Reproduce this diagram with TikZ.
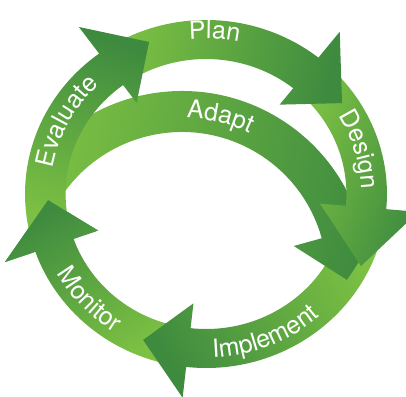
\documentclass[tikz,border=0pt]{standalone}
\usepackage{fontspec}
\setmainfont{TeX Gyre Heros}
\usetikzlibrary{decorations.text}

\definecolor{leafdark}{RGB}{62,139,63}
\definecolor{leaflight}{RGB}{124,193,67}
\newcommand{\cyclefont}{\fontsize{25}{29}\selectfont}

\tikzset{
  leaf/.style={top color=leafdark, bottom color=leaflight, shading angle=#1},
  stage/.style={decorate, decoration={text along path, text align=center,
      text color=white, text={|\cyclefont|#1}}}
}

\begin{document}
\begin{tikzpicture}[x=1pt, y=1pt]
  \useasboundingbox (0,0) rectangle (406,396);
  \clip (0,0) rectangle (406,396);
  \coordinate (o) at (206,202);
  \coordinate (a) at (182,119);

  \begin{scope}[shift={(o)}, xscale=1.04]
    % Monitor
    \shade[leaf=30] (258:174) arc[start angle=258, end angle=199.4, radius=174]
      -- (199.4:205) -- (182.3:152) -- (199.4:110) -- (199.4:135)
      arc[start angle=199.4, end angle=258, radius=135] -- cycle;
    % Implement
    \shade[leaf=120] (-11:174) arc[start angle=-11, end angle=-96.3, radius=174]
      -- (-96.3:205) -- (-112.5:158) -- (-96.3:110) -- (-96.3:135)
      arc[start angle=-96.3, end angle=-11, radius=135] -- cycle;
  \end{scope}

  % Adapt, behind Evaluate
  \begin{scope}[shift={(a)}]
    \shade[leaf=-100] (145:186) arc[start angle=145, end angle=15.5, radius=186]
      -- (15.5:212) -- (-1:165) -- (15.5:116) -- (15.5:145)
      arc[start angle=15.5, end angle=145, radius=145] -- cycle;
  \end{scope}

  \begin{scope}[shift={(o)}, xscale=1.04]
    % Design
    \shade[leaf=-110] (46:174) arc[start angle=46, end angle=-5, radius=174]
      -- (-5:205) -- (-25.8:165.5) -- (-5:110) -- (-5:135)
      arc[start angle=-5, end angle=46, radius=135] -- cycle;
    % Plan
    \shade[leaf=-100] (121:174) arc[start angle=121, end angle=51.6, radius=174]
      -- (51.6:207) -- (34.8:159.3) -- (51.6:114) -- (51.6:135)
      arc[start angle=51.6, end angle=121, radius=135] -- cycle;
    % Evaluate
    \shade[leaf=-20] (194:174) arc[start angle=194, end angle=126.2, radius=174]
      -- (126.2:207) -- (109.8:161.6) -- (126.2:113) -- (126.2:135)
      arc[start angle=126.2, end angle=194, radius=135] -- cycle;
    % Monitor head again, over the start of Evaluate
    \begin{scope}
      \clip (199.4:205) -- (182.3:152) -- (199.4:110) -- cycle;
      \shade[leaf=30] (258:174) arc[start angle=258, end angle=199.4, radius=174]
        -- (199.4:205) -- (182.3:152) -- (199.4:110) -- (199.4:135)
        arc[start angle=199.4, end angle=258, radius=135] -- cycle;
    \end{scope}

    % labels
    \path[stage=Plan] (127:155) arc[start angle=127, end angle=47, radius=155];
    \path[stage=Design] (56:149.5) arc[start angle=56, end angle=-23, radius=149.5];
    \path[stage=Evaluate] (192:150) arc[start angle=192, end angle=112, radius=150];
    \path[stage=Implement] (-107.7:164) arc[start angle=-107.7, end angle=-27.7, radius=164];
    \path[stage=Monitor] (183:164) arc[start angle=183, end angle=263, radius=164];
  \end{scope}

  \begin{scope}[shift={(a)}]
    \path[stage=Adapt] (116.6:159) arc[start angle=116.6, end angle=36.6, radius=159];
  \end{scope}
\end{tikzpicture}
\end{document}
